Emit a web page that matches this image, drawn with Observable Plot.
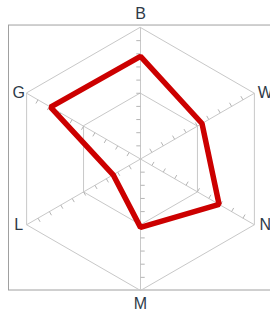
<!DOCTYPE html>
<html>
<head>
<meta charset="utf-8">
<script src="https://cdn.jsdelivr.net/npm/d3@7"></script>
<script src="https://cdn.jsdelivr.net/npm/@observablehq/plot@0.6"></script>
<style>
  html, body { margin: 0; padding: 0; background: #fff; }
  svg { display: block; }
</style>
</head>
<body>
<div id="chart"></div>
<script>
// Axes (clockwise from top) and series values (0..1)
const categories = ["B", "W", "N", "M", "L", "G"];
const values = [0.78, 0.54, 0.69, 0.52, 0.24, 0.79];
const gridLevels = [0.5, 1.0];
const tickLevels = [0.1, 0.2, 0.3, 0.4, 0.5, 0.6, 0.7, 0.8, 0.9];

const W = 270, H = 318;
const cx = 140, cy = 158.5, R = 131.5;

const angleOf = i => Math.PI / 2 - i * Math.PI / 3;
const dirs = categories.map((c, i) => ({c, ux: Math.cos(angleOf(i)), uy: Math.sin(angleOf(i))}));

// grid hexagons
const gridPts = gridLevels.flatMap(r => dirs.map(d => ({r, x: r * d.ux, y: r * d.uy})));
// spokes
const spokes = dirs.map(d => ({x1: 0, y1: 0, x2: d.ux, y2: d.uy}));
// tick marks (perpendicular, counter-clockwise side)
const tickLen = 0.032;
const ticks = dirs.flatMap(d => tickLevels.map(t => ({
  x1: t * d.ux, y1: t * d.uy,
  x2: t * d.ux - tickLen * d.uy, y2: t * d.uy + tickLen * d.ux
})));
// series polygon
const series = dirs.map((d, i) => ({c: d.c, x: values[i] * d.ux, y: values[i] * d.uy}));
// labels
const labels = dirs.map(d => {
  let x = d.ux, y = d.uy;
  if (Math.abs(d.ux) < 0.01) y += Math.sign(d.uy) * 0.103;
  else x += d.ux > 0 ? 0.083 : -0.06;
  return {c: d.c, x, y};
});
// surrounding frame box
const yExt = d3.extent(dirs, d => d.uy);
const frameBox = [{x1: -1, x2: 1, y1: yExt[0], y2: yExt[1] + 0.015}];

const chart = Plot.plot({
  width: W, height: H,
  margin: 0,
  x: {domain: [-cx / R, (W - cx) / R], range: [0, W], axis: null},
  y: {domain: [-(H - cy) / R, cy / R], range: [H, 0], axis: null},
  style: {background: "#fff", fontFamily: "'Liberation Sans', Arial, sans-serif"},
  marks: [
    Plot.rect(frameBox, {x1: "x1", x2: "x2", y1: "y1", y2: "y2", fill: "none", stroke: "#a0a0a0", strokeWidth: 1}),
    Plot.line(gridPts, {x: "x", y: "y", z: "r", curve: "linear-closed", stroke: "#c8c8c8", strokeWidth: 1}),
    Plot.link(spokes, {x1: "x1", y1: "y1", x2: "x2", y2: "y2", stroke: "#c8c8c8", strokeWidth: 1}),
    Plot.link(ticks, {x1: "x1", y1: "y1", x2: "x2", y2: "y2", stroke: "#b5b5b5", strokeWidth: 1}),
    Plot.line(series, {x: "x", y: "y", curve: "linear-closed", stroke: "#cc0000", strokeWidth: 5.5, strokeLinejoin: "miter"}),
    Plot.text(labels, {x: "x", y: "y", text: "c", fontSize: 16, fill: "#2e3a48", textAnchor: "middle", lineAnchor: "middle"})
  ]
});
document.getElementById("chart").appendChild(chart);
</script>
</body>
</html>
